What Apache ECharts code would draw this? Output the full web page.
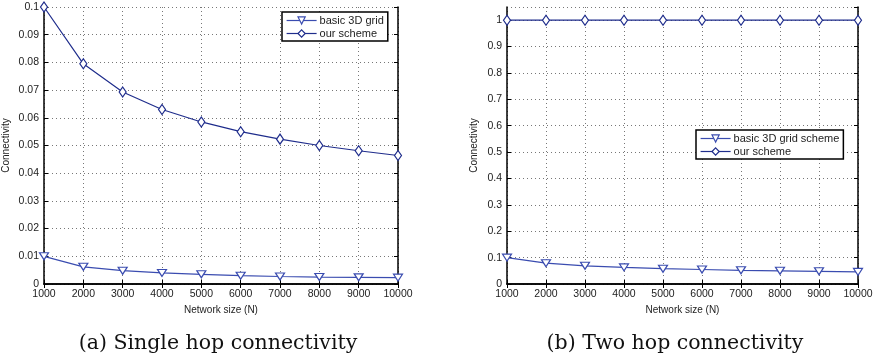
<!DOCTYPE html>
<html>
<head>
<meta charset="utf-8">
<script src="https://cdn.jsdelivr.net/npm/echarts@6/dist/echarts.min.js"></script>
<style>
  html, body { margin: 0; padding: 0; background: #fff; }
  #chart { width: 877px; height: 360px; }
</style>
</head>
<body>
<div id="chart"></div>
<script>
// network sizes (x axis)
const networkSizes = [1000, 2000, 3000, 4000, 5000, 6000, 7000, 8000, 9000, 10000]

// (a) single hop
const singleBasic = [0.0100, 0.0062, 0.0048, 0.0040, 0.0035, 0.0030, 0.0027, 0.0025, 0.0024, 0.0023]
const singleOurs = [0.1000, 0.0795, 0.0693, 0.0630, 0.0585, 0.0550, 0.0523, 0.0500, 0.0481, 0.0464]

// (b) two hop
const twoBasic = [0.100, 0.079, 0.069, 0.063, 0.058, 0.055, 0.052, 0.050, 0.048, 0.046]
const twoOurs = [1, 1, 1, 1, 1, 1, 1, 1, 1, 1]

const captions = ['(a) Single hop connectivity', '(b) Two hop connectivity']

const pairs = (ys) => networkSizes.map((x, i) => [x, ys[i]])

const lineBasic = '#3a4cb0'
const lineOurs = '#1f2d8c'
const font = 'Liberation Sans'

let chart = echarts.init(document.getElementById('chart'))

function mainX (gridIndex) {
  return {
    type: 'value', gridIndex: gridIndex, min: 1000, max: 10000, interval: 1000,
    name: 'Network size (N)', nameLocation: 'middle', nameGap: 17,
    nameTextStyle: { color: '#222', fontFamily: font, fontSize: 10 },
    axisLine: { lineStyle: { color: '#000', width: 1.5 } },
    axisTick: { inside: true, length: 4, lineStyle: { color: '#000' } },
    axisLabel: { color: '#222', fontFamily: font, fontSize: 10.5, margin: 5, formatter: (v) => String(v) },
    splitLine: { show: true, lineStyle: { color: '#777', type: [1, 3], width: 1 } }
  }
}
function topX (gridIndex) {
  return {
    type: 'value', gridIndex: gridIndex, position: 'top', min: 1000, max: 10000, interval: 1000,
    axisLine: { lineStyle: { color: '#000', width: 1.5 } },
    axisTick: { inside: true, length: 4, lineStyle: { color: '#000' } },
    axisLabel: { show: false },
    splitLine: { show: false }
  }
}
function mainY (gridIndex, max, interval, nameGap) {
  return {
    type: 'value', gridIndex: gridIndex, min: 0, max: max, interval: interval,
    name: 'Connectivity', nameLocation: 'middle', nameGap: nameGap,
    nameTextStyle: { color: '#222', fontFamily: font, fontSize: 10 },
    axisLine: { show: true, lineStyle: { color: '#000', width: 1.5 } },
    axisTick: { show: true, inside: true, length: 4, lineStyle: { color: '#000' } },
    axisLabel: { color: '#222', fontFamily: font, fontSize: 10.5, margin: 5, showMaxLabel: max === 0.1 },
    splitLine: { show: true, lineStyle: { color: '#777', type: [1, 3], width: 1 } }
  }
}
function rightY (gridIndex, max, interval) {
  return {
    type: 'value', gridIndex: gridIndex, position: 'right', min: 0, max: max, interval: interval,
    axisLine: { show: true, lineStyle: { color: '#000', width: 1.5 } },
    axisTick: { show: true, inside: true, length: 4, lineStyle: { color: '#000' } },
    axisLabel: { show: false },
    splitLine: { show: false }
  }
}
function series (name, ys, gridIndex, basic) {
  return {
    name: name, type: 'line', xAxisIndex: gridIndex * 2, yAxisIndex: gridIndex * 2,
    data: pairs(ys),
    symbol: basic ? 'triangle' : 'diamond',
    symbolRotate: basic ? 180 : 0,
    symbolSize: basic ? [9, 7] : [7, 10],
    showAllSymbol: true,
    lineStyle: { color: basic ? lineBasic : lineOurs, width: 1.2 },
    itemStyle: { color: '#fff', borderColor: basic ? lineBasic : lineOurs, borderWidth: 1.2 },
    emphasis: { disabled: true },
    z: basic ? 3 : 4
  }
}
function legendItem (name, basic) {
  return {
    name: name,
    itemStyle: { color: '#fff', borderColor: basic ? lineBasic : lineOurs, borderWidth: 1.2 },
    lineStyle: { color: basic ? lineBasic : lineOurs, width: 1.2 }
  }
}
function legend (left, top, names) {
  return {
    orient: 'vertical', left: left, top: top,
    data: [legendItem(names[0], true), legendItem(names[1], false)],
    backgroundColor: '#fff', borderColor: '#000', borderWidth: 1.5, borderRadius: 0,
    padding: [3, 4, 2, 4], itemGap: 2, itemWidth: 30, itemHeight: 9,
    textStyle: { color: '#222', fontFamily: font, fontSize: 11, padding: [0, 0, 0, -2] },
    selectedMode: false
  }
}

let option = {
  animation: false,
  backgroundColor: '#fff',
  title: [
    { text: captions[0], left: 213, top: 328, textAlign: 'center',
      textStyle: { fontFamily: 'DejaVu Serif', fontWeight: 'normal', fontSize: 20.5, color: '#111' } },
    { text: captions[1], left: 670, top: 328, textAlign: 'center',
      textStyle: { fontFamily: 'DejaVu Serif', fontWeight: 'normal', fontSize: 20.5, color: '#111' } }
  ],
  legend: [
    legend(282, 12, ['basic 3D grid', 'our scheme']),
    legend(696, 130, ['basic 3D grid scheme', 'our scheme'])
  ],
  grid: [
    { left: 44, right: 479, top: 7, bottom: 76 },
    { left: 507, right: 19, top: 7, bottom: 76 }
  ],
  xAxis: [mainX(0), topX(0), mainX(1), topX(1)],
  yAxis: [mainY(0, 0.1, 0.01, 33), rightY(0, 0.1, 0.01), mainY(1, 1.05, 0.1, 28), rightY(1, 1.05, 0.1)],
  series: [
    series('basic 3D grid', singleBasic, 0, true),
    series('our scheme', singleOurs, 0, false),
    series('basic 3D grid scheme', twoBasic, 1, true),
    series('our scheme', twoOurs, 1, false)
  ]
}
chart.setOption(option)
window.addEventListener('resize', () => chart.resize())
</script>
</body>
</html>
